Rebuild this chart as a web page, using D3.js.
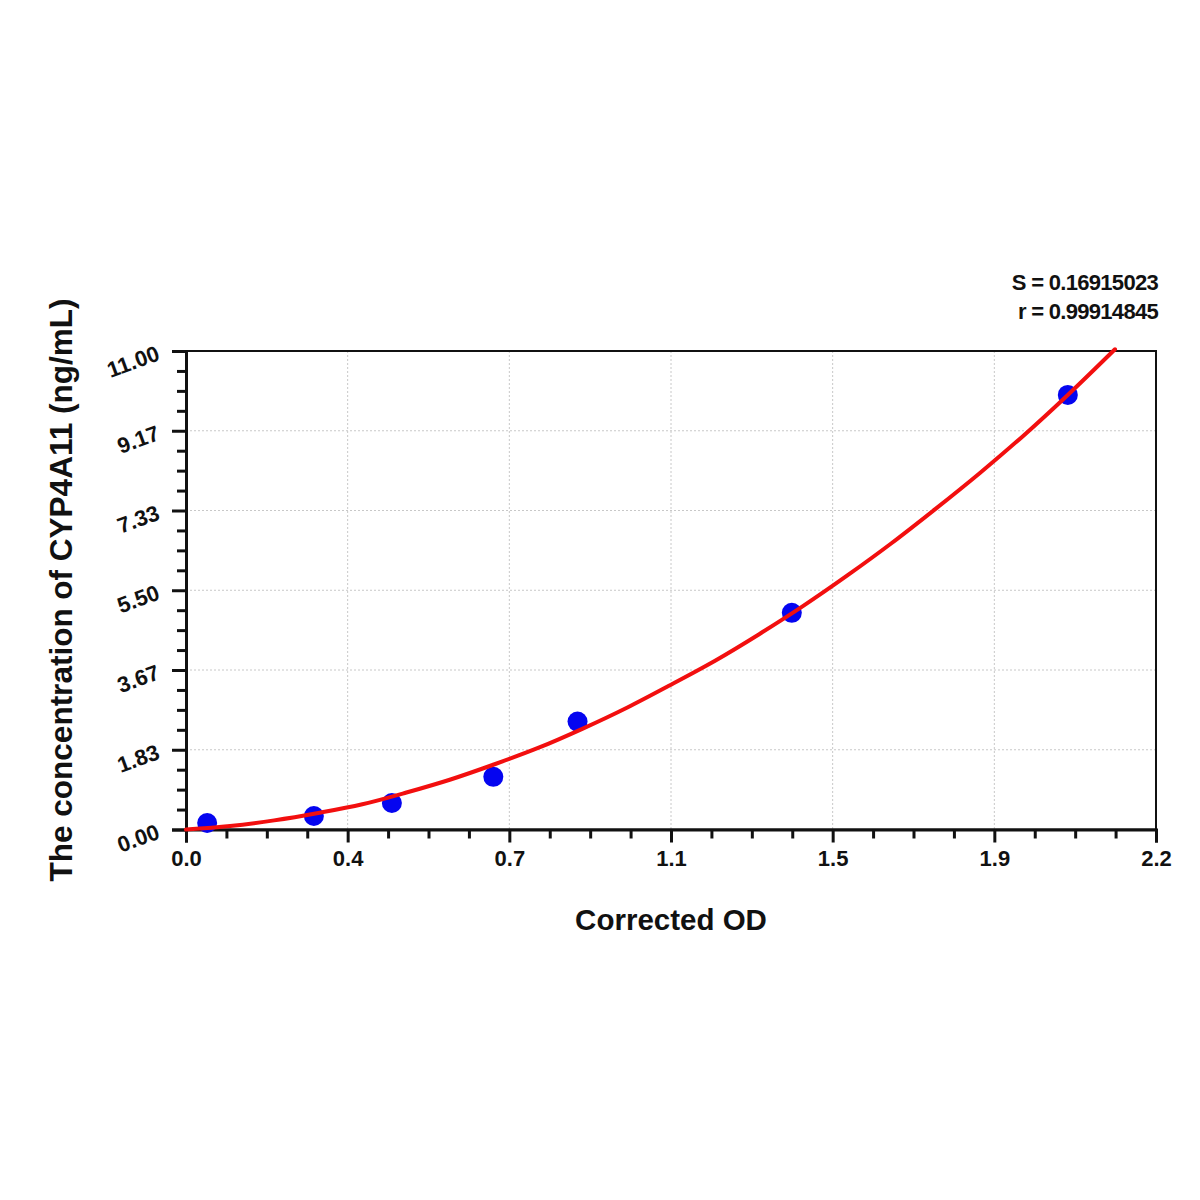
<!DOCTYPE html>
<html>
<head>
<meta charset="utf-8">
<script src="https://cdn.jsdelivr.net/npm/d3@7"></script>
<style>
  html, body { margin: 0; padding: 0; background: #fff; }
  text { font-family: "Liberation Sans", Arial, sans-serif; font-weight: bold; fill: #111; }
</style>
</head>
<body>
<svg id="chart" width="1200" height="1200"></svg>
<script>
// ---- data ----
const pointOD   = [0.048, 0.290, 0.467, 0.697, 0.888, 1.374, 2.000];
const pointConc = [0.15, 0.31, 0.61, 1.21, 2.48, 4.98, 9.99];

const curveOD   = [0.00, 0.10, 0.20, 0.30, 0.40, 0.50, 0.60, 0.70, 0.80, 0.90, 1.00, 1.10, 1.20, 1.30, 1.40, 1.50, 1.60, 1.70, 1.80, 1.90, 2.00, 2.107];
const curveConc = [0.00, 0.08, 0.21, 0.38, 0.58, 0.85, 1.15, 1.50, 1.88, 2.32, 2.80, 3.33, 3.88, 4.49, 5.14, 5.84, 6.58, 7.37, 8.19, 9.06, 9.99, 11.04];

const xTickLabels = ["0.0", "0.4", "0.7", "1.1", "1.5", "1.9", "2.2"];
const yTickLabels = ["0.00", "1.83", "3.67", "5.50", "7.33", "9.17", "11.00"];
const statLines = ["S = 0.16915023", "r = 0.99914845"];
const xTitle = "Corrected OD";
const yTitle = "The concentration of CYP4A11 (ng/mL)";

// ---- layout ----
const svg = d3.select("#chart");
const L = 186, R = 1156, T = 351, B = 829.5;
const xMax = 2.2, yMax = 11;
const x = d3.scaleLinear().domain([0, xMax]).range([L, R]);
const y = d3.scaleLinear().domain([0, yMax]).range([B, T]);

const nMajor = 6, nSub = 4;
const xMajor = d3.range(nMajor + 1).map(i => i * xMax / nMajor);
const yMajor = d3.range(nMajor + 1).map(i => i * yMax / nMajor);
const xMinor = d3.range(nMajor * nSub + 1).map(i => i * xMax / (nMajor * nSub)).filter((v, i) => i % nSub !== 0);
const yMinor = d3.range(nMajor * nSub + 1).map(i => i * yMax / (nMajor * nSub)).filter((v, i) => i % nSub !== 0);

// grid
const grid = svg.append("g").attr("stroke", "#c8c8c8").attr("stroke-width", 1).attr("stroke-dasharray", "2,2");
grid.selectAll(".gx").data(xMajor.slice(1, -1)).enter().append("line")
  .attr("x1", d => x(d)).attr("x2", d => x(d)).attr("y1", T).attr("y2", B);
grid.selectAll(".gy").data(yMajor.slice(1, -1)).enter().append("line")
  .attr("x1", L).attr("x2", R).attr("y1", d => y(d)).attr("y2", d => y(d));

// frame
svg.append("rect").attr("x", L).attr("y", T).attr("width", R - L).attr("height", B - T)
  .attr("fill", "none").attr("stroke", "#111").attr("stroke-width", 2);

// x axis
const xAxis = d3.axisBottom(x).tickValues(xMajor).tickSize(13).tickFormat((d, i) => xTickLabels[i]);
const gx = svg.append("g").attr("transform", `translate(0,${B})`).call(xAxis);
gx.select(".domain").attr("stroke", "#111").attr("stroke-width", 3);
gx.selectAll(".tick line").attr("stroke", "#111").attr("stroke-width", 3);
gx.selectAll(".tick text").style("font-size", "22px").attr("fill", "#111").attr("y", 21).attr("dy", "0.71em");
const gxm = svg.append("g").attr("transform", `translate(0,${B})`)
  .call(d3.axisBottom(x).tickValues(xMinor).tickSize(9).tickFormat(""));
gxm.select(".domain").remove();
gxm.selectAll(".tick line").attr("stroke", "#111").attr("stroke-width", 3);

// y axis
const yAxis = d3.axisLeft(y).tickValues(yMajor).tickSize(14).tickFormat((d, i) => yTickLabels[i]);
const gy = svg.append("g").attr("transform", `translate(${L},0)`).call(yAxis);
gy.select(".domain").attr("stroke", "#111").attr("stroke-width", 3);
gy.selectAll(".tick line").attr("stroke", "#111").attr("stroke-width", 3);
gy.selectAll(".tick text").style("font-size", "22px").attr("fill", "#111")
  .attr("x", null).attr("dy", null)
  .attr("text-anchor", "end")
  .attr("transform", "translate(-25,8) rotate(-20)");
const gym = svg.append("g").attr("transform", `translate(${L},0)`)
  .call(d3.axisLeft(y).tickValues(yMinor).tickSize(9).tickFormat(""));
gym.select(".domain").remove();
gym.selectAll(".tick line").attr("stroke", "#111").attr("stroke-width", 3);

// points
const pts = pointOD.map((v, i) => ({ x: v, y: pointConc[i] }));
svg.append("g").selectAll("circle").data(pts).enter().append("circle")
  .attr("cx", d => x(d.x)).attr("cy", d => y(d.y)).attr("r", 10).attr("fill", "#0505f0");

// curve
const curve = curveOD.map((v, i) => ({ x: v, y: curveConc[i] }));
svg.append("path").datum(curve)
  .attr("d", d3.line().x(d => x(d.x)).y(d => y(d.y)).curve(d3.curveMonotoneX))
  .attr("fill", "none").attr("stroke", "#f20f0f").attr("stroke-width", 4).attr("stroke-linecap", "round");

// stats
svg.append("g").selectAll("text").data(statLines).enter().append("text")
  .attr("x", 1158).attr("y", (d, i) => 290 + i * 29)
  .attr("text-anchor", "end").style("font-size", "22px").attr("letter-spacing", -0.7)
  .text(d => d);

// titles
svg.append("text").attr("x", 671).attr("y", 930).attr("text-anchor", "middle")
  .style("font-size", "29.5px").text(xTitle);
svg.append("text").attr("transform", `translate(61,590) rotate(-90)`)
  .attr("text-anchor", "middle").attr("dy", "0.35em").style("font-size", "31.5px").text(yTitle);
</script>
</body>
</html>
